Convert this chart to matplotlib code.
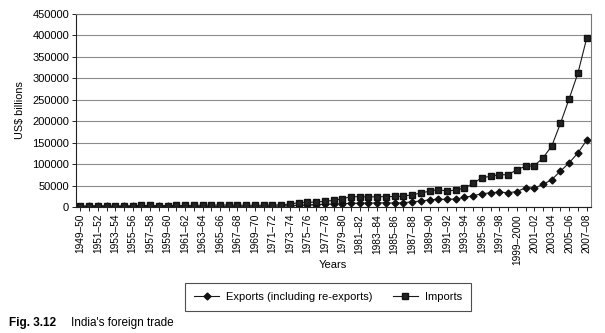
import numpy as np
import matplotlib.pyplot as plt

plt.rcParams['font.family'] = ['Liberation Sans', 'DejaVu Sans']

# Trade values per fiscal year (as charted)
years = ["1949–50", "1950–51", "1951–52", "1952–53", "1953–54", "1954–55",
         "1955–56", "1956–57", "1957–58", "1958–59", "1959–60", "1960–61",
         "1961–62", "1962–63", "1963–64", "1964–65", "1965–66", "1966–67",
         "1967–68", "1968–69", "1969–70", "1970–71", "1971–72", "1972–73",
         "1973–74", "1974–75", "1975–76", "1976–77", "1977–78", "1978–79",
         "1979–80", "1980–81", "1981–82", "1982–83", "1983–84", "1984–85",
         "1985–86", "1986–87", "1987–88", "1988–89", "1989–90", "1990–91",
         "1991–92", "1992–93", "1993–94", "1994–95", "1995–96", "1996–97",
         "1997–98", "1998–99", "1999–2000", "2000–01", "2001–02", "2002–03",
         "2003–04", "2004–05", "2005–06", "2006–07", "2007–08"]

exports = [1020, 1270, 1490, 1220, 1120, 1250, 1280, 1280, 1250, 1230,
           1310, 1350, 1380, 1440, 1660, 1700, 1690, 1630, 1590, 1760,
           1840, 2030, 2150, 2550, 3210, 4170, 4670, 5750, 6320, 6980,
           7810, 8490, 8700, 9110, 9450, 9880, 8900, 9750, 12090, 13970,
           16610, 18140, 17870, 18540, 22240, 26330, 31000, 33000, 35000, 33200,
           36000, 44600, 44000, 52500, 63800, 83500, 103000, 126000, 155500]

imports = [2310, 2540, 3340, 2690, 2400, 2730, 2900, 3530, 3650, 3120,
           3320, 3700, 3660, 3820, 4220, 4510, 4640, 4550, 4240, 4270,
           3920, 4190, 4600, 4970, 6970, 9840, 10750, 11430, 13350, 15280,
           19130, 24000, 23900, 23400, 24000, 24000, 24500, 25000, 28500, 32500,
           37000, 40500, 37000, 39500, 44500, 55000, 68500, 71500, 75500, 75000,
           87000, 95000, 96000, 114500, 142000, 195000, 252500, 312000, 393000]

yticks = np.arange(0, 450001, 50000)


def main():
    fig = plt.figure(figsize=(6.05, 3.33), dpi=100)
    ax = fig.add_axes([76 / 605, 1 - 207 / 333, 515 / 605, 193 / 333])

    x = np.arange(len(years))
    ax.plot(x, exports, color='#1a1a1a', lw=0.8, marker='D', ms=3.5,
            mfc='#111111', mec='#111111', label='Exports (including re-exports)')
    ax.plot(x, imports, color='#1a1a1a', lw=0.8, marker='s', ms=4.5,
            mfc='#222222', mec='#111111', label='Imports')

    ax.set_xlim(-0.5, len(years) - 0.5)
    ax.set_ylim(0, 450000)
    ax.set_yticks(yticks)
    ax.set_yticklabels([str(v) for v in yticks], fontsize=8)
    ax.yaxis.grid(True, color='#8c8c8c', lw=0.8)
    ax.set_axisbelow(True)

    ax.set_xticks(x[::2])
    ax.set_xticklabels(years[::2], rotation=90, fontsize=7.3)
    ax.set_xticks(x[1::2], minor=True)
    ax.tick_params(axis='x', which='both', length=3, width=0.6, pad=2)
    ax.tick_params(axis='y', length=3, width=0.6, pad=2)

    for side in ('top', 'right'):
        ax.spines[side].set_color('#777777')
        ax.spines[side].set_linewidth(0.8)
    for side in ('left', 'bottom'):
        ax.spines[side].set_color('#222222')
        ax.spines[side].set_linewidth(0.8)

    ax.set_ylabel('US$ billions', fontsize=7.8, labelpad=5)
    fig.text(0.55, 0.204, 'Years', ha='center', va='center', fontsize=8)

    leg = fig.legend(loc='center', bbox_to_anchor=(0.542, 0.108), ncol=2,
                     fontsize=8, frameon=True, fancybox=False,
                     handlelength=2.3, handletextpad=0.6, columnspacing=1.8,
                     borderpad=0.8)
    leg.get_frame().set_edgecolor('#222222')
    leg.get_frame().set_linewidth(0.8)

    fig.text(0.015, 0.03, 'Fig. 3.12', fontsize=8.5, fontweight='bold', va='center')
    fig.text(0.118, 0.03, "India's foreign trade", fontsize=8.5, va='center')

    fig.savefig('out.png', dpi=100)


if __name__ == "__main__":
    main()
